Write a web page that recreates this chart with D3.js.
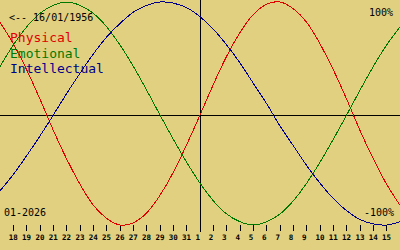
<!DOCTYPE html>
<html><head><meta charset="utf-8">
<script src="https://cdn.jsdelivr.net/npm/d3@7/dist/d3.min.js"></script>
<style>html,body{margin:0;padding:0;background:#e0d080;overflow:hidden}svg{display:block}</style>
</head><body><svg id="c" width="400" height="250"></svg>
<script>
// day offsets relative to 1 Jan 2026
const dayOffsets = [-15,-14,-13,-12,-11,-10,-9,-8,-7,-6,-5,-4,-3,-2,-1,0,1,2,3,4,5,6,7,8,9,10,11,12,13,14,15];
const physical = [0.82,0.63,0.40,0.14,-0.14,-0.40,-0.63,-0.82,-0.94,-1.00,-0.98,-0.89,-0.73,-0.52,-0.27,0,0.27,0.52,0.73,0.89,0.98,1.00,0.94,0.82,0.63,0.40,0.14,-0.14,-0.40,-0.63,-0.82];
const emotional = [0.43,0.62,0.78,0.90,0.97,1.00,0.97,0.90,0.78,0.62,0.43,0.22,0,-0.22,-0.43,-0.62,-0.78,-0.90,-0.97,-1.00,-0.97,-0.90,-0.78,-0.62,-0.43,-0.22,0,0.22,0.43,0.62,0.78];
const intellectual = [-0.69,-0.54,-0.37,-0.19,0,0.19,0.37,0.54,0.69,0.81,0.91,0.97,1.00,0.99,0.95,0.87,0.76,0.62,0.46,0.28,0.10,-0.10,-0.28,-0.46,-0.62,-0.76,-0.87,-0.95,-0.99,-1.00,-0.97];
const tickDays = [-14,-13,-12,-11,-10,-9,-8,-7,-6,-5,-4,-3,-2,-1,0,1,2,3,4,5,6,7,8,9,10,11,12,13,14];
const tickLabels = ["18","19","20","21","22","23","24","25","26","27","28","29","30","31","1","2","3","4","5","6","7","8","9","10","11","12","13","14","15"];
const seriesNames = ["Physical","Emotional","Intellectual"];
const birthLabel = "<-- 16/01/1956";
const monthLabel = "01-2026";
const topLabel = "100%";
const bottomLabel = "-100%";

const colors = ["#e00000","#007800","#00008c"];
const mono = "'DejaVu Sans Mono', 'Liberation Mono', monospace";

const svg = d3.select("#c");
svg.append("rect").attr("width",400).attr("height",250).attr("fill","#e0d080");

const x = d3.scaleLinear().domain([-15,15]).range([0,400]);
const y = d3.scaleLinear().domain([-1,0,1]).range([225,115,2]);

// axes
svg.append("line").attr("x1",0).attr("x2",400).attr("y1",y(0)+0.5).attr("y2",y(0)+0.5)
  .attr("stroke","#000").attr("stroke-width",1).attr("shape-rendering","crispEdges");
svg.append("line").attr("x1",x(0)+0.5).attr("x2",x(0)+0.5).attr("y1",0).attr("y2",232)
  .attr("stroke","#000").attr("stroke-width",1).attr("shape-rendering","crispEdges");

// ticks
const tg = svg.append("g");
tickDays.forEach((d,i)=>{
  const px = Math.floor(x(d))+0.5;
  if (d !== 0) {
    tg.append("line").attr("x1",px).attr("x2",px).attr("y1",225).attr("y2",231)
      .attr("stroke","#000").attr("stroke-width",1).attr("shape-rendering","crispEdges");
  }
  tg.append("text").attr("x",x(d)-4.6).attr("y",240)
    .attr("font-family",mono).attr("font-size",7.5).attr("font-weight","bold")
    .attr("fill","#000").text(tickLabels[i]);
});

// curves
const series = [physical, emotional, intellectual];
const line = d3.line().x((v,i)=>x(dayOffsets[i])).y(v=>y(v)).curve(d3.curveNatural);
series.forEach((s,k)=>{
  svg.append("path").attr("d",line(s)).attr("fill","none")
    .attr("stroke",colors[k]).attr("stroke-width",1).attr("shape-rendering","crispEdges");
});

// texts
svg.append("text").attr("x",9).attr("y",21).attr("font-family",mono).attr("font-size",10)
  .attr("fill","#000").text(birthLabel);
const legY = [42,57.5,73];
seriesNames.forEach((n,k)=>{
  svg.append("text").attr("x",10).attr("y",legY[k]).attr("font-family",mono).attr("font-size",13)
    .attr("fill",colors[k]).text(n);
});
svg.append("text").attr("x",369).attr("y",16).attr("font-family",mono).attr("font-size",10)
  .attr("fill","#000").text(topLabel);
svg.append("text").attr("x",364).attr("y",216).attr("font-family",mono).attr("font-size",10)
  .attr("fill","#000").text(bottomLabel);
svg.append("text").attr("x",4).attr("y",216).attr("font-family",mono).attr("font-size",10)
  .attr("fill","#000").text(monthLabel);
</script></body></html>
